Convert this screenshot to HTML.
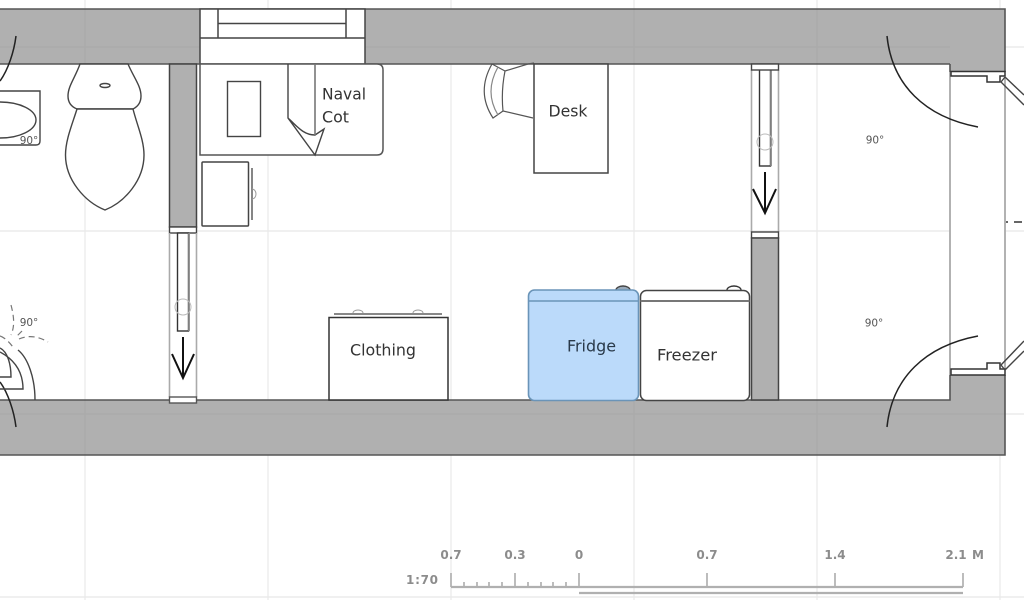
<!DOCTYPE html>
<html><head><meta charset="utf-8"><title>Floor plan</title>
<style>html,body{margin:0;padding:0;background:#fff}svg{display:block}
text{font-family:"DejaVu Sans","Liberation Sans",sans-serif}</style></head>
<body>
<svg width="1024" height="600" viewBox="0 0 1024 600" xmlns="http://www.w3.org/2000/svg">
<rect width="1024" height="600" fill="#fff"/>
<!-- grid -->
<g stroke="#e8e8e8" stroke-width="1.2" fill="none">
<path d="M85 0V600M268 0V600M451 0V600M634 0V600M817 0V600M1000 0V600M0 47H1024M0 231H1024M0 414H1024M0 597H1024"/>
</g>
<rect x="950" y="72" width="56" height="303" fill="#fff"/>
<!-- walls -->
<path d="M0 9H1005V72H950V64H0Z" fill="#b0b0b0"/>
<path d="M0 400H950V375H1005V455H0Z" fill="#b0b0b0"/>
<g stroke="#a9a9a9" stroke-width="1" fill="none"><path d="M85 9V64M85 400V455M634 9V64M634 400V455M817 9V64M817 400V455M0 47H950M0 414H1005"/></g>
<path d="M0 9H1005V72M950 64V72M0 64H950M0 400H950V375M1005 375V455H0" fill="none" stroke="#555" stroke-width="1.6"/>
<path d="M950 72V375M1005 78V370" stroke="#aaa" stroke-width="1.8" fill="none"/>
<!-- entrance frame -->
<path d="M951 71.500H1005V76H1000V82H987V76H951Z" fill="#fff" stroke="#333" stroke-width="1.5"/>
<path d="M951 375H1005V369H1000V363H987V369H951Z" fill="#fff" stroke="#333" stroke-width="1.5"/>
<path d="M1005 77L1024 95M1001 82L1024 105M1001 82L1005 77M1005 370L1024 351M1001 365L1024 341M1001 365L1005 370" stroke="#444" stroke-width="1.4" fill="none"/>
<path d="M1006 222H1008M1014 222H1022" stroke="#333" stroke-width="1.4"/>
<!-- door swings -->
<g fill="none" stroke="#222" stroke-width="1.5">
<path d="M887 36C892 85 925 117 978 127"/>
<path d="M887 427C892 378 925 346 978 336"/>
<path d="M16 36C14 52 8 70 0 81"/>
<path d="M16 427C14 411 8 393 0 382"/>
</g>
<!-- window -->
<rect x="200" y="9" width="165" height="55" fill="#fff" stroke="#444" stroke-width="1.5"/>
<path d="M218 9V38M346 9V38M218 23.500H346M200 38H365" stroke="#444" stroke-width="1.5" fill="none"/>
<!-- sink -->
<path d="M0 91H40V141Q40 145 36 145H0" fill="#fff" stroke="#444" stroke-width="1.4"/>
<ellipse cx="0" cy="120" rx="36" ry="18" fill="#fff" stroke="#444" stroke-width="1.4"/>
<text x="29" y="144" font-size="10.500" fill="#555" text-anchor="middle">90°</text>
<!-- toilet -->
<g fill="#fff" stroke="#444" stroke-width="1.4">
<path d="M80 64H128C134 78 141 86 141 96C141 103 137 107 133 109H77C72 107 68 103 68 96C68 86 75 78 80 64Z"/>
<path d="M77 109C72 125 65.500 140 65.500 155C65.500 180 85 202 105 210C125 202 144 180 144 155C144 140 137 125 133 109Z"/>
<ellipse cx="105" cy="85.500" rx="5" ry="2"/>
</g>
<!-- left partition -->
<rect x="169.500" y="64" width="27" height="163" fill="#b0b0b0" stroke="#444" stroke-width="1.5"/>
<rect x="169.500" y="227" width="27" height="6" fill="#fff" stroke="#444" stroke-width="1.4"/>
<path d="M169.500 233V397M196.500 233V397" stroke="#aaa" stroke-width="1.6"/>
<rect x="169.500" y="397" width="27" height="6" fill="#fff" stroke="#555" stroke-width="1.4"/>
<rect x="177.500" y="233" width="11" height="98" fill="#fff" stroke="#333" stroke-width="1.4"/>
<path d="M189 233V331" stroke="#888" stroke-width="1.8"/>
<circle cx="183" cy="307" r="8" fill="none" stroke="#bbb" stroke-width="1"/>
<path d="M183 337V378M172 354L183 378L194 354" fill="none" stroke="#111" stroke-width="2"/>
<!-- naval cot -->
<path d="M200 64H377Q383 64 383 70V149Q383 155 377 155H200Z" fill="#fff" stroke="#555" stroke-width="1.5"/>
<rect x="227.500" y="81.500" width="33" height="55" fill="#fff" stroke="#444" stroke-width="1.4"/>
<path d="M288 64V118L315 155L324 129L315 135C303 135 297 126 288 118" fill="#fff" stroke="#444" stroke-width="1.4"/>
<path d="M315 64V135" stroke="#777" stroke-width="1.6"/>
<text x="322" y="99.500" font-size="16" fill="#333" textLength="44" lengthAdjust="spacingAndGlyphs">Naval</text>
<text x="322" y="122.500" font-size="16" fill="#333" textLength="27" lengthAdjust="spacingAndGlyphs">Cot</text>
<!-- small cabinet -->
<rect x="202" y="162" width="46.500" height="64" rx="1" fill="#fff" stroke="#444" stroke-width="1.5"/>
<path d="M252 168V220" stroke="#444" stroke-width="1.3"/>
<path d="M252 189A4 5 0 0 1 252 199" fill="none" stroke="#999"/>
<!-- chair + desk -->
<g fill="none" stroke="#555" stroke-width="1.2">
<path d="M534 63L528 64L505 71Q501 91 503 111L533 118"/>
<path d="M492 64L505 71M503 111L493 118Q476 92 492 64"/>
<path d="M498 67Q484 92 498 115" stroke="#888"/>
</g>
<rect x="534" y="64" width="74" height="109" fill="#fff" stroke="#444" stroke-width="1.5"/>
<text x="568" y="116.500" font-size="16" fill="#333" text-anchor="middle" textLength="39" lengthAdjust="spacingAndGlyphs">Desk</text>
<!-- right partition -->
<path d="M751.500 70V232M778.500 70V232" stroke="#aaa" stroke-width="1.6"/>
<rect x="759.500" y="68" width="11" height="98" fill="#fff" stroke="#333" stroke-width="1.4"/>
<path d="M771 68V166" stroke="#888" stroke-width="1.8"/>
<rect x="751.500" y="64" width="27" height="6" fill="#fff" stroke="#444" stroke-width="1.4"/>
<circle cx="765" cy="142" r="8" fill="none" stroke="#bbb" stroke-width="1"/>
<path d="M765 172V213M753 189L765 213L776 189" fill="none" stroke="#111" stroke-width="2"/>
<rect x="751.500" y="232" width="27" height="6" fill="#fff" stroke="#444" stroke-width="1.4"/>
<rect x="751.500" y="238" width="27" height="162" fill="#b0b0b0" stroke="#444" stroke-width="1.5"/>
<!-- clothing -->
<path d="M334 314H442" stroke="#777" stroke-width="1.8"/>
<path d="M353 313A5 3 0 0 1 363 313M413 313A5 3 0 0 1 423 313" fill="#fff" stroke="#999"/>
<rect x="329" y="317.500" width="119" height="82.500" fill="#fff" stroke="#333" stroke-width="1.5"/>
<text x="383" y="355.500" font-size="16" fill="#333" text-anchor="middle" textLength="66" lengthAdjust="spacingAndGlyphs">Clothing</text>
<!-- fridge -->
<path d="M616 290A7 4 0 0 1 630 290" fill="#9ab" stroke="#444" stroke-width="1.4"/>
<rect x="528.500" y="290" width="110" height="110.500" rx="6" fill="#bbdafa" stroke="#6a94b8" stroke-width="1.6"/>
<path d="M528.500 301H638.500" stroke="#6a94b8" stroke-width="1.6"/>
<text x="591.500" y="351.500" font-size="16" fill="#2a3a4a" text-anchor="middle" textLength="49" lengthAdjust="spacingAndGlyphs">Fridge</text>
<!-- freezer -->
<path d="M727 290A7 4 0 0 1 741 290" fill="#fff" stroke="#333" stroke-width="1.4"/>
<rect x="640.500" y="290.500" width="109" height="110" rx="6" fill="#fff" stroke="#444" stroke-width="1.5"/>
<path d="M640.500 301H749.500" stroke="#777" stroke-width="1.9"/>
<text x="687" y="360.500" font-size="16" fill="#333" text-anchor="middle" textLength="60" lengthAdjust="spacingAndGlyphs">Freezer</text>
<!-- angle labels -->
<text x="875" y="143.500" font-size="10.500" fill="#555" text-anchor="middle">90°</text>
<text x="874" y="326.500" font-size="10.500" fill="#555" text-anchor="middle">90°</text>
<!-- lower-left fixture -->
<g fill="none" stroke="#444" stroke-width="1.4">
<path d="M35 400C35 378 28 358 18 350"/>
<path d="M0 389H23C23 372 15 360 0 352"/>
<path d="M0 377H11C11 365 8 352 0 348"/>
</g>
<g fill="none" stroke="#777" stroke-width="1.2" stroke-dasharray="6 4">
<path d="M11 305C15 320 14 328 11 335"/>
<path d="M19 339C28 335 38 336 48 342"/>
<path d="M0 336C6 338 12 345 14 349"/>
<path d="M22 331L16 337"/>
</g>
<text x="29" y="326" font-size="10.500" fill="#555" text-anchor="middle">90°</text>
<!-- scale -->
<g font-size="12" font-weight="bold" fill="#8c8c8c" text-anchor="middle">
<text x="451" y="559">0.7</text>
<text x="515" y="559">0.3</text>
<text x="579" y="559">0</text>
<text x="707" y="559">0.7</text>
<text x="835" y="559">1.4</text>
<text x="956" y="559">2.1</text>
<text x="978" y="559">M</text>
<text x="422" y="584" textLength="32" lengthAdjust="spacing">1:70</text>
</g>
<g stroke="#999" stroke-width="1.3" fill="none">
<path d="M451 573V587M515 573V587M579 573V587M707 573V587M835 573V587M963 573V587"/>
<path d="M464 582V587M477 582V587M489 582V587M502 582V587M528 582V587M541 582V587M553 582V587M566 582V587"/>
</g>
<path d="M451 587H963M579 593H963" stroke="#b0b0b0" stroke-width="2.2" fill="none"/>
</svg>
</body></html>
